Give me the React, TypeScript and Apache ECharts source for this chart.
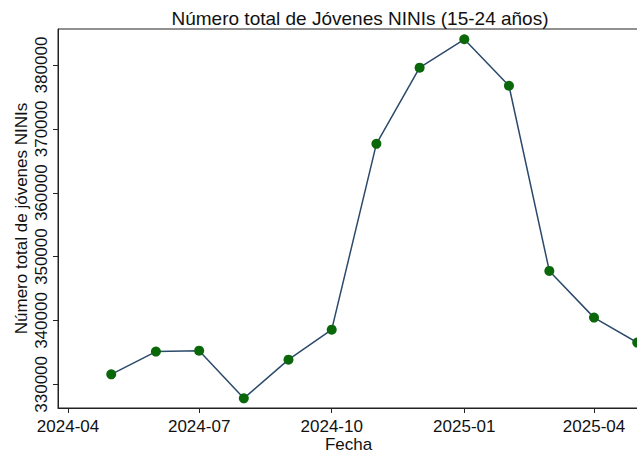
import React, { useEffect, useRef } from "react";
import * as echarts from "echarts";

const months: string[] = [
  "2024-05", "2024-06", "2024-07", "2024-08", "2024-09", "2024-10", "2024-11",
  "2024-12", "2025-01", "2025-02", "2025-03", "2025-04", "2025-05",
];
const ninis: number[] = [
  331570, 335130, 335280, 327810, 333870, 338570, 367660,
  379580, 384030, 376750, 347760, 340450, 336540,
];
const xTickLabels: string[] = ["2024-04", "2024-07", "2024-10", "2025-01", "2025-04"];
const yTickValues: number[] = [330000, 340000, 350000, 360000, 370000, 380000];

const toMs = (ym: string) => {
  const [y, m] = ym.split("-").map(Number);
  return Date.UTC(y, m - 1, 1);
};
const fmt = (v: number) => {
  const d = new Date(v);
  return `${d.getUTCFullYear()}-${String(d.getUTCMonth() + 1).padStart(2, "0")}`;
};

export default function App() {
  const ref = useRef<HTMLDivElement>(null);
  useEffect(() => {
    if (!ref.current) return;
    const chart = echarts.init(ref.current, null, { renderer: "svg" });
    const a = toMs("2024-04");
    const b = toMs("2025-04");
    const pxPerMs = 526 / (b - a);
    const gridLeft = 58;
    const gridRightPx = 639;
    const xMin = a - (68 - gridLeft) / pxPerMs;
    const xMax = b + (gridRightPx - 594) / pxPerMs;
    const font = "'Liberation Sans', Arial, sans-serif";
    const axisColor = "#222";
    chart.setOption({
      animation: false,
      backgroundColor: "#ffffff",
      title: {
        text: "Número total de Jóvenes NINIs (15-24 años)",
        left: 355,
        textAlign: "center",
        top: 4,
        textStyle: { fontFamily: font, fontSize: 19, fontWeight: "normal", color: "#111" },
      },
      grid: {
        left: gridLeft,
        right: 637 - gridRightPx,
        top: 29,
        bottom: 452 - 408,
        outerBoundsMode: "none",
        containLabel: false,
        show: true,
        borderColor: axisColor,
        borderWidth: 1,
        backgroundColor: "transparent",
      },
      xAxis: {
        type: "value",
        min: xMin,
        max: xMax,
        name: "Fecha",
        nameLocation: "middle",
        nameGap: 28,
        nameMoveOverlap: false,
        nameTextStyle: { fontFamily: font, fontSize: 17, lineHeight: 16, color: "#111" },
        splitLine: { show: false },
        axisLine: { show: true, lineStyle: { color: axisColor, width: 1 } },
        axisTick: {
          show: true,
          length: 5,
          lineStyle: { color: axisColor },
          customValues: xTickLabels.map(toMs),
        },
        axisLabel: {
          fontFamily: font,
          fontSize: 17,
          lineHeight: 16,
          color: "#111",
          margin: 10,
          customValues: xTickLabels.map(toMs),
          formatter: (v: number) => fmt(v),
        },
      },
      yAxis: {
        type: "value",
        min: 326300,
        max: 385640,
        name: "Número total de jóvenes NINIs",
        nameLocation: "middle",
        nameRotate: 90,
        nameGap: 28,
        nameMoveOverlap: false,
        nameTextStyle: { fontFamily: font, fontSize: 17, color: "#111" },
        splitLine: { show: false },
        axisLine: { show: true, lineStyle: { color: axisColor, width: 1 } },
        axisTick: {
          show: true,
          length: 5,
          lineStyle: { color: axisColor },
          customValues: yTickValues,
        },
        axisLabel: {
          fontFamily: font,
          fontSize: 17,
          color: "#111",
          rotate: 90,
          margin: 8,
          customValues: yTickValues,
          formatter: (v: number) => String(v),
        },
      },
      series: [
        {
          type: "line",
          data: months.map((m, i) => [toMs(m), ninis[i]]),
          symbol: "circle",
          symbolSize: 10,
          lineStyle: { color: "#2b4a6b", width: 1.5 },
          itemStyle: { color: "#0a670a", borderWidth: 0 },
          clip: true,
        },
      ],
    });
    return () => chart.dispose();
  }, []);
  return <div ref={ref} style={{ width: 637, height: 452, position: "fixed", left: 0, top: 0 }} />;
}
